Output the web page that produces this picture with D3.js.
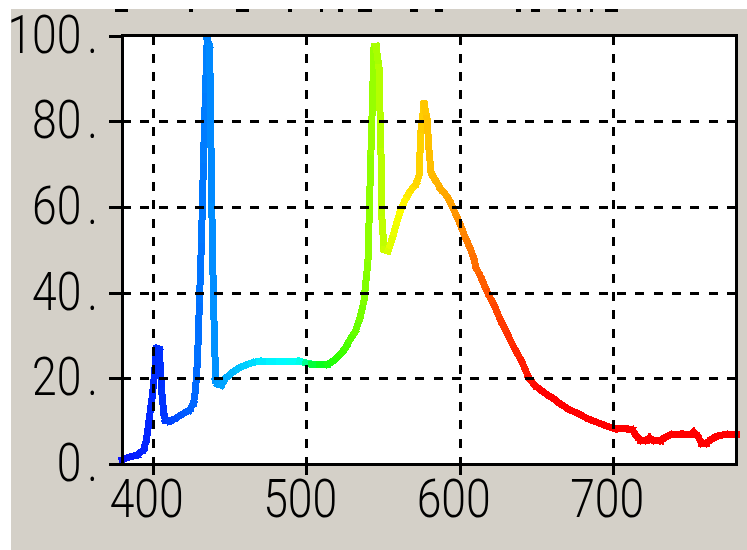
<!DOCTYPE html>
<html>
<head>
<meta charset="utf-8">
<script src="https://cdn.jsdelivr.net/npm/d3@7"></script>
<style>
  html, body { margin: 0; padding: 0; background: #ffffff; }
  svg { display: block; }
</style>
</head>
<body>
<svg id="chart" width="747" height="550"></svg>
<script>
// Spectral power distribution, relative intensity per wavelength (nm)
const wavelengths = [380, 384.8, 390, 394, 395.9, 397.2, 398.5, 399.8, 401.1, 402.6, 404.3, 405.9, 407.2, 408.2,
  410.9, 414.2, 417.4, 420.7, 424, 426.6, 427.9, 429.2, 430.5, 431.8, 433.1, 434.4, 435.5, 437.1, 438.5, 439.6,
  441, 442.3, 444.9, 447.5, 451.4, 455.4, 459.3, 464.5, 469.7, 476.2, 482.8, 489.3, 495.8, 499.7, 503.7,
  508.9, 514.1, 517.4, 520.6, 523.2, 525.9, 528.5, 531.8, 535, 537.6, 539.6, 540.3, 542.2, 544.2, 545.5,
  547.4, 548.7, 549.4, 550.7, 553.3, 554.6, 557.2, 559.1, 561.1, 563.7, 566.3, 568.9, 571.5, 573.5, 574.8,
  576.8, 578.7, 580, 581.3, 583.3, 585.3, 587.9, 590.5, 593.1, 595, 597, 599, 601, 603, 605, 606.9, 608.9,
  610.8, 613.4, 618, 622.6, 626.5, 631.1, 635.7, 640.3, 644.8, 648.7, 652.6, 656.5, 660.5, 665.7, 670.9,
  677.4, 683.9, 690.4, 695.6, 701.5, 708, 712.6, 715.2, 717.8, 721.7, 723.7, 725.6, 730.8, 733.5, 737.4,
  743.9, 750.5, 752.4, 755, 757.6, 760.9, 764.2, 768.1, 773.3, 780];

const intensity = [1, 1.6, 2.1, 3.3, 5.6, 9, 12.6, 16, 20.8, 27, 26.6, 17, 12, 10.3,
  10, 10.5, 11.2, 11.9, 12.6, 14.2, 17.3, 24.3, 38.3, 52.3, 71, 87.3, 99, 97.5, 60, 38,
  19.6, 18.7, 18.4, 20, 21.2, 22.2, 22.9, 23.6, 24, 24, 24, 24, 24, 23.6, 23.3,
  23.2, 23.3, 24, 25, 26, 27.3, 29, 30.8, 34, 38, 45, 48, 73, 97.5, 97.5,
  92.6, 73, 57, 50, 49.7, 51, 54, 56.5, 58.8, 61, 62.8, 64.2, 65.3, 67.4, 78,
  84, 80.7, 73.3, 68.1, 66.7, 65.6, 64, 63, 61.6, 60.2, 58.6, 57, 55.3, 53.4, 51.8, 50.2, 48.3,
  45.7, 43.9, 40.1, 36.9, 33.6, 30.3, 27, 24, 20.3, 18.4, 17.3, 16.3, 15.4, 14, 12.8,
  11.7, 10.5, 9.6, 8.9, 8.2, 8.2, 7.9, 6.5, 5.6, 5.6, 6.1, 5.6, 5.4, 6.1, 6.8,
  7, 7, 7.5, 6.5, 4.9, 4.9, 5.8, 6.5, 6.9, 6.9];

// Axis ticks
const xTicks = [400, 500, 600, 700];
const yTicks = [0, 20, 40, 60, 80, 100];

// Wavelength -> display colour stops
const colorStopsNm = [380, 405, 425, 435, 445, 460, 475, 490, 500, 503, 510, 522, 535, 545, 550, 557, 563, 572, 580, 595, 605, 620, 640, 655];
const colorStops = ["#0a10ff", "#0030ff", "#0060ff", "#0080ff", "#00a0ff", "#00c8ff", "#00f0ff", "#00ffff", "#00ffe0",
  "#00ff50", "#00ff20", "#30ff00", "#70ff00", "#a0ff00", "#c0ff00", "#e8ff00", "#ffff00", "#ffd800", "#ffc000",
  "#ffa000", "#ff8000", "#ff5000", "#ff2000", "#ff0000"];

const svg = d3.select("#chart");
const W = 747, H = 550;

const x = d3.scaleLinear().domain([380, 780]).range([122, 736]);
const y = d3.scaleLinear().domain([0, 100]).range([464, 35.5]);
const color = d3.scaleLinear().domain(colorStopsNm).range(colorStops).clamp(true);

// Window panel
svg.append("rect").attr("x", 0).attr("y", 0).attr("width", W).attr("height", H).attr("fill", "#ffffff");
svg.append("rect").attr("x", 11).attr("y", 9).attr("width", W - 11).attr("height", H - 9).attr("fill", "#d4d0c8");

// Clipped title strip along the top edge
const titleBits = [[115, 13], [189, 4], [236, 13], [288, 4], [320, 3], [338, 5], [358, 14], [410, 8], [435, 8],
  [516, 5], [531, 9], [558, 8], [577, 4], [590, 3], [605, 13]];
svg.append("g").selectAll("rect").data(titleBits).join("rect")
  .attr("x", d => d[0]).attr("y", 9).attr("width", d => d[1]).attr("height", 3)
  .attr("fill", "#000").attr("shape-rendering", "crispEdges");

// Plot area
svg.append("rect")
  .attr("x", x(380)).attr("y", y(100))
  .attr("width", x(780) - x(380)).attr("height", y(0) - y(100))
  .attr("fill", "#ffffff");

// Spectrum curve, each segment coloured by its wavelength
const pts = wavelengths.map((w, i) => [w, intensity[i]]);
const segs = d3.pairs(pts);
svg.append("g")
  .selectAll("line").data(segs).join("line")
  .attr("x1", d => x(d[0][0])).attr("y1", d => y(d[0][1]))
  .attr("x2", d => x(d[1][0])).attr("y2", d => y(d[1][1]))
  .attr("stroke", d => color((d[0][0] + d[1][0]) / 2))
  .attr("stroke-width", 7)
  .attr("stroke-linecap", "square")
  .attr("shape-rendering", "crispEdges");

// Dashed grid
const grid = svg.append("g").attr("stroke", "#000").attr("stroke-width", 3)
  .attr("stroke-dasharray", "9 9.33").attr("shape-rendering", "crispEdges");
grid.selectAll(".gy").data(yTicks.filter(t => t > 0 && t < 100)).join("line")
  .attr("x1", x(380)).attr("x2", x(780))
  .attr("y1", d => Math.round(y(d))).attr("y2", d => Math.round(y(d)));
grid.selectAll(".gx").data(xTicks).join("line")
  .attr("y1", y(100)).attr("y2", y(0))
  .attr("x1", d => Math.round(x(d))).attr("x2", d => Math.round(x(d)));

// Axes
const labelFont = "Roboto, 'DejaVu Sans', sans-serif";

const yAxis = svg.append("g")
  .attr("transform", `translate(${x(380)},0)`)
  .call(d3.axisLeft(y).tickValues(yTicks).tickSize(13).tickSizeOuter(0).tickFormat(() => ""));
yAxis.selectAll("line").attr("stroke", "#000").attr("stroke-width", 3).attr("shape-rendering", "crispEdges");
yAxis.select(".domain").remove();

const xAxis = svg.append("g")
  .attr("transform", `translate(0,${y(0)})`)
  .call(d3.axisBottom(x).tickValues(xTicks).tickSize(11).tickSizeOuter(0).tickFormat(() => ""));
xAxis.selectAll("line").attr("stroke", "#000").attr("stroke-width", 3).attr("shape-rendering", "crispEdges");
xAxis.select(".domain").remove();

// Frame
svg.append("rect")
  .attr("x", x(380)).attr("y", y(100))
  .attr("width", x(780) - x(380)).attr("height", y(0) - y(100))
  .attr("fill", "none").attr("stroke", "#000").attr("stroke-width", 3)
  .attr("shape-rendering", "crispEdges");

// Tick labels (tall narrow digits)
const sx = 0.84;
const yLab = svg.append("g").selectAll("g").data(yTicks).join("g")
  .attr("transform", d => `translate(98,${y(d) + 17}) scale(${sx},1)`)
  .append("text")
  .attr("text-anchor", "end")
  .attr("font-family", labelFont).attr("font-weight", 300).attr("font-size", 53)
  .attr("fill", "#000");
yLab.append("tspan").text(d => d);
yLab.append("tspan").attr("dx", 7).text(".");

svg.append("g").selectAll("g").data(xTicks).join("g")
  .attr("transform", d => `translate(${x(d) - 6},517) scale(${sx},1)`)
  .append("text")
  .attr("text-anchor", "middle")
  .attr("font-family", labelFont).attr("font-weight", 300).attr("font-size", 53)
  .attr("fill", "#000")
  .text(d => d);
</script>
</body>
</html>
